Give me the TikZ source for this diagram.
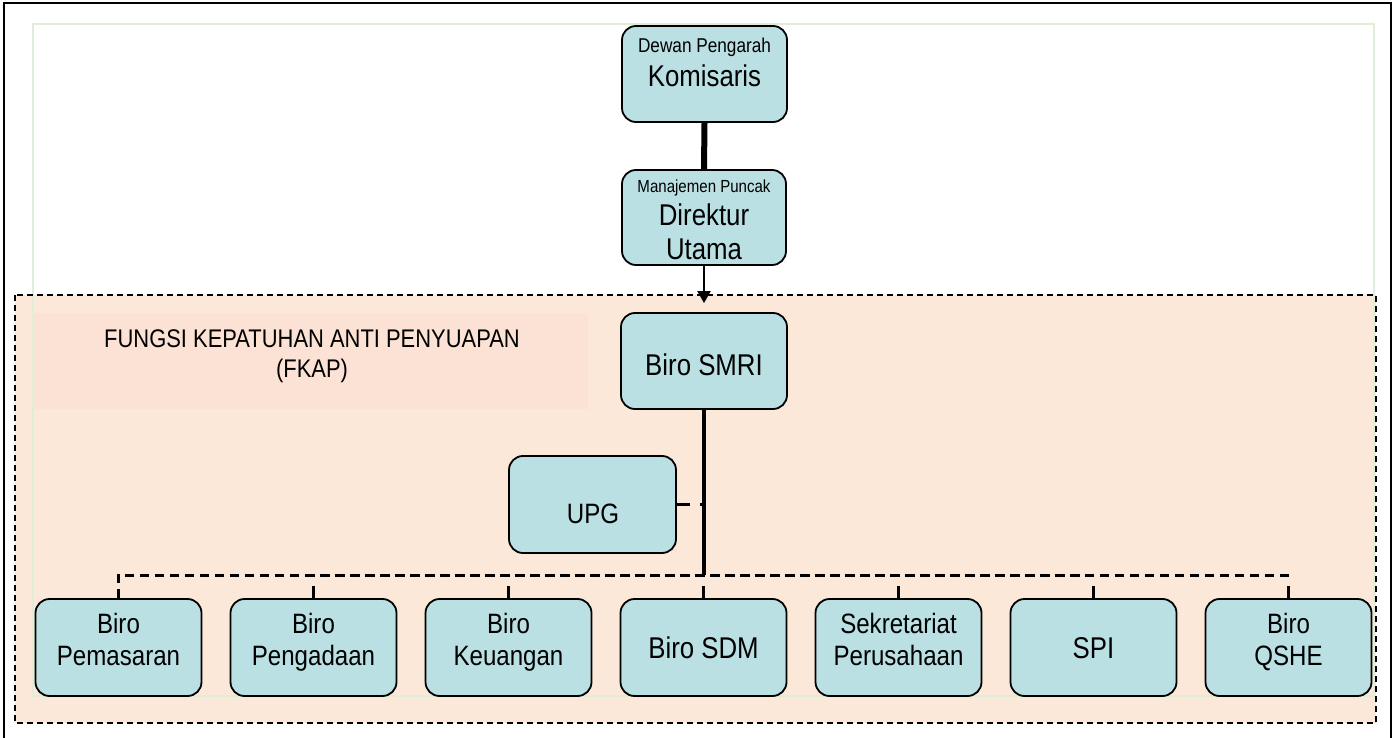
\documentclass[tikz,border=0pt]{standalone}
\usepackage{fontspec}
\setmainfont[FakeStretch=0.86]{Liberation Sans}
\usetikzlibrary{arrows.meta}
\definecolor{boxfill}{RGB}{186,224,227}
\definecolor{peach}{RGB}{252,232,217}
\definecolor{fkappink}{RGB}{251,226,213}
\definecolor{lgreen}{RGB}{224,238,216}
\begin{document}
\begin{tikzpicture}[x=1pt,y=-1pt,
  orgbox/.style={draw=black,line width=1.8pt,fill=boxfill,rounded corners=14pt,
    minimum width=166pt,minimum height=96pt,inner sep=0pt},
  lbl/.style={anchor=base,inner sep=0pt},
  bigtxt/.style={font=\fontsize{30}{34}\selectfont},
  midtxt/.style={font=\fontsize{28}{32}\selectfont},
  fktxt/.style={font=\fontsize{25.5}{30}\selectfont},
  tick/.style={line width=3pt},
  busline/.style={line width=3pt,dash pattern=on 9pt off 6pt},
]
\useasboundingbox (0,0) rectangle (1398,738);
% frames
\draw[line width=2pt] (4,3) rectangle (1391,760);
\fill[peach] (15,295) rectangle (1376,723);
\draw[lgreen,line width=1.5pt] (33,24) rectangle (1374,696);
\draw[line width=1.8pt,dash pattern=on 6pt off 4pt] (15,295) rectangle (1376,723);
\fill[fkappink] (33,313) rectangle (588,409);
\node[lbl,fktxt] (fk1) at (312,347) {FUNGSI KEPATUHAN ANTI PENYUAPAN};
\node[lbl,fktxt] (fk2) at (312,377) {(FKAP)};

% top boxes
\node[orgbox,minimum width=165pt] (kom) at (704.5,74) {};
\node[lbl,font=\fontsize{20}{22}\selectfont] (komA) at (704.5,53) {Dewan Pengarah};
\node[lbl,bigtxt] (komB) at (704.5,87) {Komisaris};

\node[orgbox,minimum width=164pt,minimum height=95pt] (dir) at (704,217.5) {};
\node[lbl,font=\fontsize{17.5}{20}\selectfont] (dirA) at (704,193) {Manajemen Puncak};
\node[lbl,bigtxt] (dirB) at (704,226) {Direktur};
\node[lbl,bigtxt] (dirC) at (704,259) {Utama};

\node[orgbox] (smri) at (704,361) {};
\node[lbl,bigtxt] (smriT) at (704,375) {Biro SMRI};

\node[orgbox,minimum width=167pt,minimum height=97pt] (upg) at (592.5,504.5) {};
\node[lbl,midtxt] (upgT) at (593,523) {UPG};

% bottom boxes
\foreach \n/\x in {pem/118.5,pen/313.5,keu/508.5,sdm/703.5,sek/898.5,spi/1093.5,qshe/1288.5}{
  \node[orgbox,minimum height=97pt] (\n) at (\x,647.5) {};
}
\node[lbl,midtxt] (pemA) at (118.5,633) {Biro};
\node[lbl,midtxt] (pemB) at (118.5,665) {Pemasaran};
\node[lbl,midtxt] (penA) at (313.5,633) {Biro};
\node[lbl,midtxt] (penB) at (313.5,665) {Pengadaan};
\node[lbl,midtxt] (keuA) at (508.5,633) {Biro};
\node[lbl,midtxt] (keuB) at (508.5,665) {Keuangan};
\node[lbl,bigtxt] (sdmT) at (703.5,658) {Biro SDM};
\node[lbl,midtxt] (sekA) at (898.5,633) {Sekretariat};
\node[lbl,midtxt] (sekB) at (898.5,665) {Perusahaan};
\node[lbl,bigtxt] (spiT) at (1093.5,658) {SPI};
\node[lbl,midtxt] (qsheA) at (1288.5,633) {Biro};
\node[lbl,midtxt] (qsheB) at (1288.5,665) {QSHE};

% connectors
\coordinate (busc) at (704,575);
\coordinate (upgj) at (704,504.5);
\draw[line width=6pt] (kom.south) -- (dir.north);
\draw[line width=2pt,-{Triangle[length=12pt,width=13pt]},shorten >=9pt] (dir.south) -- (smri.north);
\draw[line width=4pt] (smri.south) -- (busc);
\draw[line width=3pt,dash pattern=on 13pt off 10pt] (upg.east) -- (upgj);
\draw[busline] (pem.north) -- (pem.north |- busc) -- (qshe.north |- busc);
\draw[busline,dash phase=7.5pt] (pen.north |- busc) -- (spi.north |- busc);
\foreach \n in {pen,keu,sdm,sek,spi,qshe}{
  \draw[tick] (\n.north) ++(0,-12) -- (\n.north);
}
\end{tikzpicture}
\end{document}
